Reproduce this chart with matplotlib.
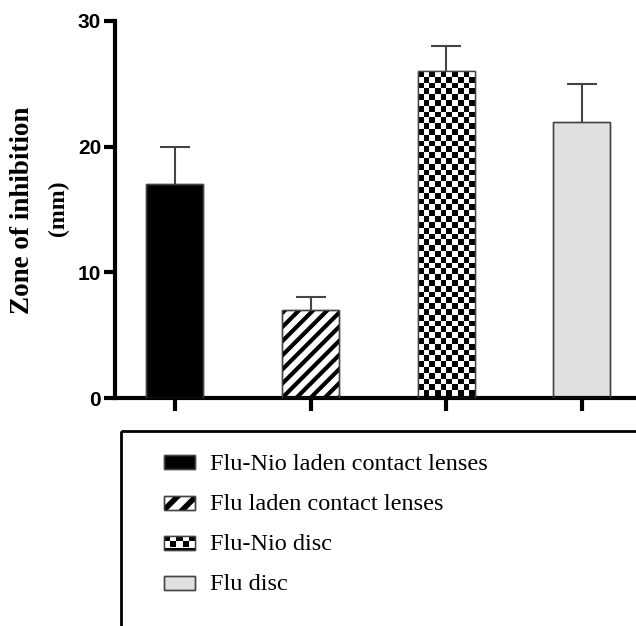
import numpy as np
import matplotlib.pyplot as plt
from matplotlib.patches import Rectangle
from matplotlib.collections import LineCollection

labels = ["Flu-Nio laden contact lenses", "Flu laden contact lenses", "Flu-Nio disc", "Flu disc"]
means = [17, 7, 26, 22]
errs = [3, 1, 2, 3]
yticks = [0, 10, 20, 30]

W, H = 636, 626
fig = plt.figure(figsize=(W / 100, H / 100), dpi=100)
fig.patch.set_facecolor("white")

X0, Y0, Y1 = 115, 398, 21
ax = fig.add_axes([X0 / W, 1 - Y0 / H, 1 - X0 / W, (Y0 - Y1) / H])
XLIM = (-0.442, 3.40)
YLIM = (0, 30)
xpx = (XLIM[1] - XLIM[0]) / (W - X0)   # data units per pixel
ypx = (YLIM[1] - YLIM[0]) / (Y0 - Y1)


def stripes(a, patch, x0, y0, w, h, sx, sy, gap, lw):
    # diagonal lines (45 deg on screen), clipped to the patch
    n = int((w / sx + h / sy) / gap) + 2
    segs = []
    for k in range(-n, n + 1):
        bx = x0 + (k * gap) * sx
        segs.append([(bx - 2 * h / sy * sx, y0 - 2 * h), (bx + 2 * h / sy * sx, y0 + 2 * h)])
    lc = LineCollection(segs, colors="black", linewidths=lw, zorder=2.5)
    a.add_collection(lc)
    lc.set_clip_path(patch)


def checker(a, patch, x0, y_top, w, h, ncol, cell_h):
    nrow = int(np.ceil(abs(h) / cell_h))
    g = (np.add.outer(np.arange(nrow), np.arange(ncol)) % 2).astype(float)
    im = a.imshow(g, cmap="gray", extent=(x0, x0 + w, y_top - nrow * cell_h, y_top), aspect="auto",
                  interpolation="nearest", zorder=2.5)
    im.set_clip_path(patch)


x = np.arange(len(means))
bw = 0.42
faces = ["black", "white", "white", "#e0e0e0"]
edge = "#444444"
bars = ax.bar(x, means, width=bw, color=faces, edgecolor=edge, linewidth=1.0, zorder=2)

b = bars[1]
stripes(ax, b, b.get_x(), 0, b.get_width(), b.get_height(), xpx, ypx, 10 * np.sqrt(2), 3.0)
b = bars[2]
checker(ax, b, b.get_x(), b.get_height(), b.get_width(), b.get_height(), 10, 5.8 * ypx)
ax.bar(x, means, width=bw, fill=False, edgecolor=edge, linewidth=1.0, zorder=3)

# upper error bars only
tops = np.array(means) + np.array(errs)
ax.vlines(x, means, tops, color=edge, linewidth=1.5, zorder=1)
ax.hlines(tops, x - 15 * xpx, x + 15 * xpx, color=edge, linewidth=1.5, zorder=1)

ax.set_xlim(*XLIM)
ax.set_ylim(*YLIM)
for s in ["top", "right"]:
    ax.spines[s].set_visible(False)
for s in ["left", "bottom"]:
    ax.spines[s].set_linewidth(3)
ax.set_yticks(yticks)
ax.set_yticklabels([str(v) for v in yticks], fontfamily="Liberation Sans", fontweight="bold", fontsize=15)
ax.set_xticks(x)
ax.set_xticklabels([])
ax.tick_params(axis="y", length=8, width=3, pad=2)
ax.tick_params(axis="x", length=9, width=3)

fig.text(23 / W, 1 - 210 / H, "Zone of inhibition", rotation=90, ha="center", va="center",
         fontfamily="Liberation Serif", fontweight="bold", fontsize=19.5)
fig.text(58 / W, 1 - 208 / H, "(mm)", rotation=90, ha="center", va="center",
         fontfamily="Liberation Serif", fontweight="bold", fontsize=17)

# legend box, drawn in pixel coordinates
lg = fig.add_axes([0, 0, 1, 1], zorder=-1)
lg.set_xlim(0, W)
lg.set_ylim(H, 0)
lg.axis("off")
lg.add_patch(Rectangle((121, 431), 600, 300, fill=False, edgecolor="black", linewidth=2))
rows = [462, 503, 543, 583]
sx0, sw, sh = 164, 31, 14
for i, (lab, y) in enumerate(zip(labels, rows)):
    r = Rectangle((sx0, y - sh / 2), sw, sh, facecolor=faces[i], edgecolor=edge, linewidth=1.0, zorder=2)
    lg.add_patch(r)
    if i == 1:
        stripes(lg, r, sx0, y + sh / 2, sw, -sh, 1, -1, 13 * np.sqrt(2), 4.0)
    if i == 2:
        g = (np.add.outer(np.arange(2), np.arange(5)) % 2).astype(float)
        im = lg.imshow(g, cmap="gray", extent=(sx0, sx0 + sw, y + sh / 2 - 3, y - sh / 2),
                       aspect="auto", interpolation="nearest", zorder=2.5)
        im.set_clip_path(r)
        lg.add_patch(Rectangle((sx0, y + sh / 2 - 2.5), sw, 2.5, facecolor="black", edgecolor="none", zorder=2.6))
    lg.add_patch(Rectangle((sx0, y - sh / 2), sw, sh, fill=False, edgecolor=edge, linewidth=1.0, zorder=3))
    lg.text(210, y + 2, lab, ha="left", va="center", fontfamily="Liberation Serif", fontsize=17.5)
lg.set_xlim(0, W)
lg.set_ylim(H, 0)

fig.savefig("out.png", dpi=100)
